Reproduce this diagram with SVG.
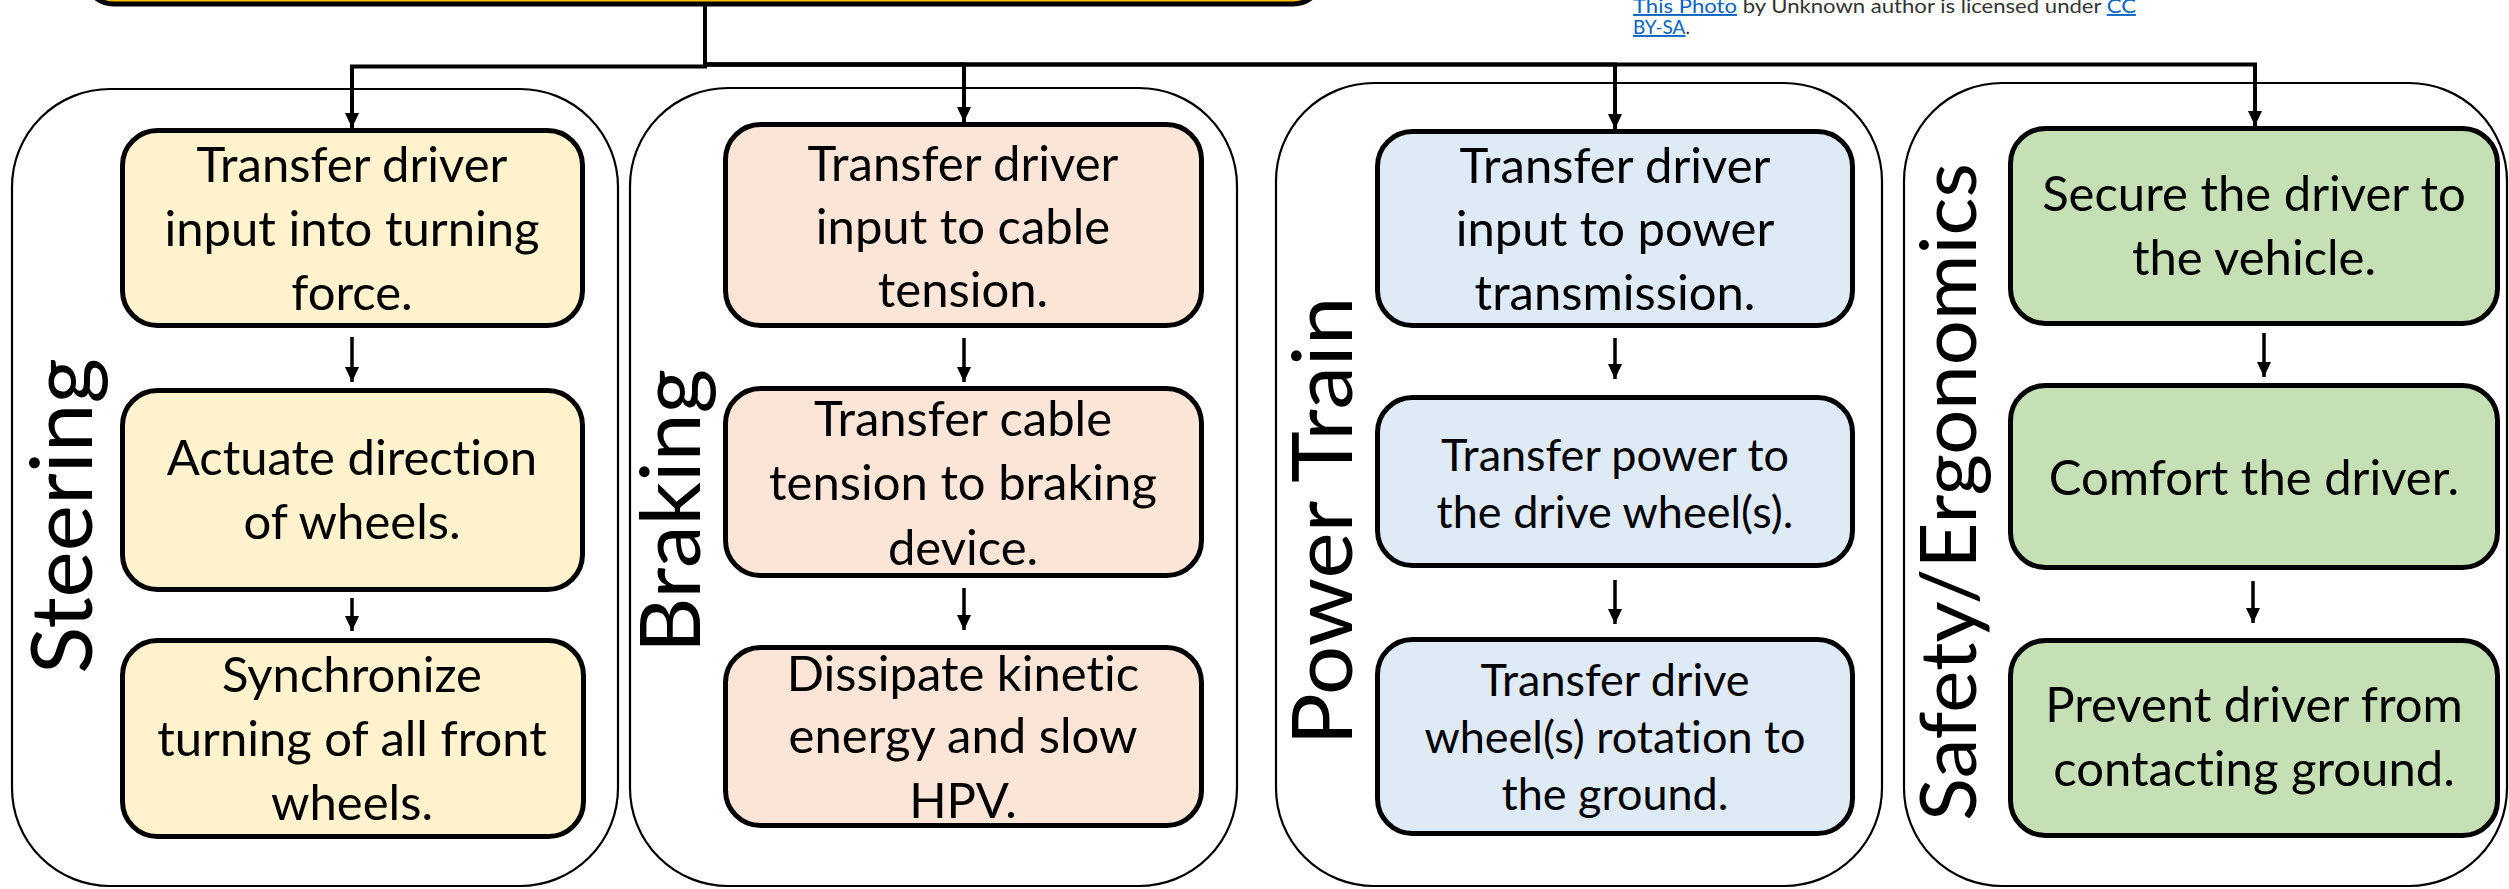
<svg xmlns="http://www.w3.org/2000/svg" width="2509" height="889" viewBox="0 0 2509 889">
<style>
.grp{fill:#fff;stroke:#000;stroke-width:2.2}
.box{stroke:#000;stroke-width:5}
.st{fill:#FFF2CC}.br{fill:#FBE5D6}.pt{fill:#DEEBF7}.se{fill:#C5E0B4}
.t{font-family:Lato,"Liberation Sans",sans-serif;font-size:49px;fill:#000;text-anchor:middle;font-variant-ligatures:none}
.ts{font-size:45px}
.lab{font-family:Lato,"Liberation Sans",sans-serif;fill:#000;text-anchor:middle}
.con{fill:none;stroke:#000;stroke-width:4}
.arr{fill:none;stroke:#000;stroke-width:3.5}
.cr{font-family:Lato,"Liberation Sans",sans-serif;font-size:19px;fill:#333}
.lk{fill:#0563C1;text-decoration:underline}
</style>
<defs>
<marker id="ah" markerUnits="userSpaceOnUse" markerWidth="16" markerHeight="16" refX="15" refY="7" orient="auto"><path d="M0,0 L15,7 L0,14 z" fill="#000"/></marker>
</defs>
<rect width="2509" height="889" fill="#fff"/>
<g id="top">
<rect x="84" y="-120" width="1239" height="124" rx="30" fill="#FFC000" stroke="#000" stroke-width="5"/>
</g>
<g id="credit">
<text class="cr" x="1633" y="13" textLength="503" lengthAdjust="spacingAndGlyphs"><tspan class="lk">This Photo</tspan> by Unknown author is licensed under <tspan class="lk">CC</tspan></text>
<text class="cr" x="1633" y="34"><tspan class="lk">BY-SA</tspan>.</text>
</g>
<g id="steering">
<rect class="grp" x="12" y="89" width="606" height="797" rx="98"/>
<text class="lab" font-size="86" transform="translate(92,516) rotate(-90)" textLength="316" lengthAdjust="spacingAndGlyphs">Steering</text>
<g id="st1"><rect class="box st" x="122.5" y="130.5" width="460" height="195" rx="35"/>
<text class="t" x="352" y="182">Transfer driver</text><text class="t" x="352" y="246">input into turning</text><text class="t" x="352" y="310">force.</text></g>
<g id="st2"><rect class="box st" x="122.5" y="390.5" width="460" height="199" rx="35"/>
<text class="t" x="352" y="475">Actuate direction</text><text class="t" x="352" y="539">of wheels.</text></g>
<g id="st3"><rect class="box st" x="122.5" y="640.5" width="461" height="196" rx="35"/>
<text class="t" x="352" y="692">Synchronize</text><text class="t" x="352" y="756">turning of all front</text><text class="t" x="352" y="820">wheels.</text></g>
</g>
<g id="braking">
<rect class="grp" x="630" y="88" width="607" height="798" rx="98"/>
<text class="lab" font-size="84" transform="translate(700,511) rotate(-90)" textLength="284" lengthAdjust="spacingAndGlyphs">Braking</text>
<g id="br1"><rect class="box br" x="725.5" y="124.5" width="476" height="201" rx="35"/>
<text class="t" x="963" y="181">Transfer driver</text><text class="t" x="963" y="244">input to cable</text><text class="t" x="963" y="307">tension.</text></g>
<g id="br2"><rect class="box br" x="725.5" y="388.5" width="476" height="187" rx="35"/>
<text class="t" x="963" y="436">Transfer cable</text><text class="t" x="963" y="500">tension to braking</text><text class="t" x="963" y="565">device.</text></g>
<g id="br3"><rect class="box br" x="725.5" y="647.5" width="476" height="178" rx="35"/>
<text class="t" x="963" y="691">Dissipate kinetic</text><text class="t" x="963" y="753">energy and slow</text><text class="t" x="963" y="818">HPV.</text></g>
</g>
<g id="powertrain">
<rect class="grp" x="1276" y="83" width="606" height="803" rx="98"/>
<text class="lab" font-size="84" transform="translate(1352,521) rotate(-90)" textLength="449" lengthAdjust="spacingAndGlyphs">Power Train</text>
<g id="pt1"><rect class="box pt" x="1377.5" y="131.5" width="475" height="194" rx="35"/>
<text class="t" x="1615" y="183">Transfer driver</text><text class="t" x="1615" y="246">input to power</text><text class="t" x="1615" y="310">transmission.</text></g>
<g id="pt2"><rect class="box pt" x="1377.5" y="397.5" width="475" height="168" rx="35"/>
<text class="t ts" x="1615" y="471">Transfer power to</text><text class="t ts" x="1615" y="528">the drive wheel(s).</text></g>
<g id="pt3"><rect class="box pt" x="1377.5" y="639.5" width="475" height="194" rx="35"/>
<text class="t ts" x="1615" y="696">Transfer drive</text><text class="t ts" x="1615" y="753">wheel(s) rotation to</text><text class="t ts" x="1615" y="810">the ground.</text></g>
</g>
<g id="safety">
<rect class="grp" x="1904" y="83" width="603" height="803" rx="98"/>
<text class="lab" font-size="78" transform="translate(1976,492) rotate(-90)" textLength="658" lengthAdjust="spacingAndGlyphs">Safety/Ergonomics</text>
<g id="se1"><rect class="box se" x="2010.5" y="128.5" width="487" height="195" rx="35"/>
<text class="t" x="2254" y="211">Secure the driver to</text><text class="t" x="2254" y="275">the vehicle.</text></g>
<g id="se2"><rect class="box se" x="2010.5" y="385.5" width="487" height="182" rx="35"/>
<text class="t" x="2254" y="495">Comfort the driver.</text></g>
<g id="se3"><rect class="box se" x="2010.5" y="640.5" width="487" height="195" rx="35"/>
<text class="t" x="2254" y="722">Prevent driver from</text><text class="t" x="2254" y="786">contacting ground.</text></g>
</g>
<g id="connectors">
<path class="con" d="M705,6 V66.5 H352 V128" marker-end="url(#ah)"/>
<path class="con" d="M705,6 V64.5 H964 V122" marker-end="url(#ah)"/>
<path class="con" d="M705,64.5 H1615 V129" marker-end="url(#ah)"/>
<path class="con" d="M705,64.5 H2255 V126" marker-end="url(#ah)"/>
<path class="arr" d="M352,337 V382" marker-end="url(#ah)"/>
<path class="arr" d="M352,598 V631" marker-end="url(#ah)"/>
<path class="arr" d="M964,338 V382" marker-end="url(#ah)"/>
<path class="arr" d="M964,588 V630" marker-end="url(#ah)"/>
<path class="arr" d="M1615,338 V379" marker-end="url(#ah)"/>
<path class="arr" d="M1615,580 V624" marker-end="url(#ah)"/>
<path class="arr" d="M2264,333 V377" marker-end="url(#ah)"/>
<path class="arr" d="M2253,581 V623" marker-end="url(#ah)"/>
</g>
</svg>
